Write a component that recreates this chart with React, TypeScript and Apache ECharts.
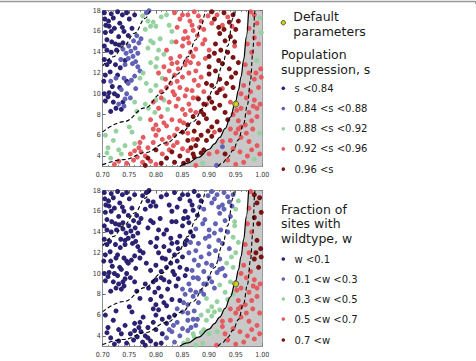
import React, { useEffect, useRef } from "react";
import * as echarts from "echarts";

// ---- data ----
const yTickValues = [4, 6, 8, 10, 12, 14, 16, 18];

const sLabels = ["s <0.84", "0.84 <s <0.88", "0.88 <s <0.92", "0.92 <s <0.96", "0.96 <s"];
const wLabels = ["w <0.1", "0.1 <w <0.3", "0.3 <w <0.5", "0.5 <w <0.7", "0.7 <w"];
const classColors = ["#2b2170", "#6161b6", "#95d29f", "#e45a5e", "#7a1313"];

const defaultParams: [number, number] = [0.95, 9.0];

// contour curves (x, y)
const dashed1: [number, number][] = [[0.7, 12.67], [0.72, 13.57], [0.74, 14.62], [0.76, 15.83], [0.78, 17.27], [0.789, 18.0]];
const dashed2: [number, number][] = [[0.7, 6.33], [0.74, 7.31], [0.78, 8.64], [0.81, 10.0], [0.84, 11.88], [0.86, 13.57], [0.875, 15.2], [0.885, 16.52], [0.894, 17.92], [0.8944, 18.0]];
const dashed3: [number, number][] = [[0.7, 3.17], [0.74, 3.65], [0.78, 4.32], [0.82, 5.28], [0.85, 6.33], [0.87, 7.31], [0.89, 8.64], [0.91, 10.56], [0.925, 12.67], [0.935, 14.62], [0.945, 17.27], [0.9472, 18.0]];
const solidCurve: [number, number][] = [[0.845, 3.0], [0.86, 3.32], [0.88, 3.88], [0.9, 4.65], [0.91, 5.17], [0.92, 5.81], [0.93, 6.64], [0.94, 7.75], [0.95, 9.3], [0.955, 10.33], [0.96, 11.63], [0.965, 13.29], [0.97, 15.5], [0.9742, 18.0]];
const dashed4: [number, number][] = [[0.917, 3.0], [0.925, 3.33], [0.935, 3.85], [0.945, 4.55], [0.955, 5.56], [0.965, 7.14], [0.972, 8.93], [0.978, 11.36], [0.982, 13.89], [0.986, 17.86], [0.9862, 18.0]];
const shadeEnd: [number, number][] = [[1.0, 18.0]];

// samples: [x, y, s-class, w-class]
const samples: [number, number, number, number][] = [
  // s < 0.84
  [0.703, 17.8, 0, 0], [0.716, 17.7, 0, 0], [0.728, 17.9, 0, 0], [0.737, 17.6, 0, 0], [0.745, 17.8, 0, 0], [0.704, 17.2, 0, 0],
  [0.706, 16.6, 0, 0], [0.712, 16.5, 0, 0], [0.722, 16.3, 0, 0], [0.732, 16.8, 0, 0], [0.737, 16.4, 0, 0], [0.705, 15.9, 0, 0],
  [0.716, 16.0, 0, 0], [0.717, 15.0, 0, 0], [0.724, 14.8, 0, 0], [0.731, 14.7, 0, 0], [0.738, 14.9, 0, 0], [0.708, 14.2, 0, 0],
  [0.716, 14.0, 0, 0], [0.726, 14.2, 0, 0], [0.703, 13.3, 0, 0], [0.708, 12.8, 0, 0], [0.714, 12.1, 0, 0], [0.705, 11.8, 0, 0],
  [0.702, 11.2, 0, 0], [0.712, 10.1, 0, 0], [0.703, 10.0, 0, 0], [0.722, 10.0, 0, 0], [0.732, 10.6, 0, 0], [0.718, 10.7, 0, 0],
  [0.728, 9.8, 0, 0], [0.738, 9.2, 0, 0], [0.705, 9.3, 0, 0], [0.725, 8.6, 0, 0], [0.715, 8.3, 0, 0], [0.748, 15.6, 0, 0],
  [0.755, 16.3, 0, 0], [0.742, 13.2, 0, 0], [0.733, 12.5, 0, 0], [0.724, 12.8, 0, 0], [0.708, 15.2, 0, 0], [0.75, 17.2, 0, 0],
  [0.745, 11.2, 0, 0], [0.76, 17.6, 0, 0], [0.711, 17.0, 0, 0], [0.72, 9.2, 0, 0], [0.72, 17.3, 0, 0], [0.73, 15.5, 0, 0],
  [0.703, 14.6, 0, 0], [0.74, 16.0, 0, 0], [0.713, 13.1, 0, 0], [0.728, 11.8, 0, 0], [0.71, 9.7, 0, 0], [0.735, 8.5, 0, 0],
  // 0.84 < s < 0.88
  [0.738, 14.3, 1, 0], [0.744, 13.9, 1, 0], [0.749, 14.6, 1, 0], [0.753, 14.1, 1, 0], [0.757, 13.6, 1, 0], [0.761, 14.4, 1, 0],
  [0.766, 13.9, 1, 0], [0.748, 13.4, 1, 0], [0.756, 12.9, 1, 0], [0.762, 13.1, 1, 0], [0.742, 12.8, 1, 0], [0.734, 13.3, 1, 0],
  [0.768, 14.9, 1, 0], [0.772, 15.3, 1, 0], [0.764, 15.6, 1, 0], [0.758, 15.1, 1, 0], [0.74, 11.5, 1, 0], [0.748, 11.0, 1, 0],
  [0.754, 11.3, 1, 0], [0.76, 11.7, 1, 0], [0.735, 10.4, 1, 0], [0.745, 10.0, 1, 0], [0.752, 9.6, 1, 0], [0.762, 10.5, 1, 0],
  [0.73, 9.0, 1, 0], [0.74, 8.8, 1, 0], [0.77, 12.2, 1, 0], [0.715, 11.2, 1, 0], [0.725, 11.5, 1, 0], [0.782, 17.8, 1, 0],
  [0.787, 18.0, 1, 0], [0.766, 12.6, 1, 0], [0.742, 9.5, 1, 0], [0.925, 4.9, 1, 3], [0.914, 3.1, 1, 3],
  // 0.88 < s < 0.92
  [0.785, 17.0, 2, 0], [0.79, 16.5, 2, 0], [0.795, 16.9, 2, 0], [0.78, 16.2, 2, 0], [0.8, 16.5, 2, 0], [0.81, 17.4, 2, 0],
  [0.82, 17.6, 2, 0], [0.825, 16.6, 2, 0], [0.79, 15.1, 2, 0], [0.795, 14.9, 2, 0], [0.808, 15.3, 2, 0], [0.785, 14.4, 2, 0],
  [0.802, 13.4, 2, 0], [0.815, 13.8, 2, 0], [0.83, 15.0, 2, 0], [0.776, 12.0, 2, 0], [0.77, 11.5, 2, 0], [0.782, 11.0, 2, 0],
  [0.79, 10.3, 2, 0], [0.8, 10.8, 2, 0], [0.812, 11.5, 2, 0], [0.78, 9.0, 2, 0], [0.786, 8.6, 2, 0], [0.798, 8.2, 2, 0],
  [0.815, 9.4, 2, 0], [0.822, 8.5, 2, 0], [0.76, 9.2, 2, 0], [0.764, 8.3, 2, 0], [0.77, 7.6, 2, 0], [0.705, 6.0, 2, 0],
  [0.71, 4.8, 2, 0], [0.708, 4.3, 2, 0], [0.73, 4.6, 2, 0], [0.735, 4.2, 2, 0], [0.75, 6.8, 2, 0], [0.755, 6.3, 2, 0],
  [0.72, 5.5, 2, 0], [0.76, 5.2, 2, 0], [0.742, 5.0, 2, 0], [0.83, 16.0, 2, 0], [0.8, 12.6, 2, 0],
  [0.775, 17.5, 2, 0], [0.805, 14.2, 2, 0], [0.79, 13.0, 2, 0], [0.8, 9.4, 2, 0], [0.725, 6.4, 2, 0], [0.715, 3.8, 2, 0],
  [0.995, 17.3, 2, 4], [0.99, 13.2, 2, 4], [0.995, 6.2, 2, 3], [0.985, 3.7, 2, 3], [0.998, 15.9, 2, 4], [0.888, 3.3, 2, 2],
  // 0.92 < s < 0.96
  [0.835, 17.8, 3, 0], [0.845, 17.2, 3, 0], [0.86, 17.6, 3, 0], [0.872, 17.9, 3, 0], [0.885, 17.0, 3, 0], [0.84, 16.4, 3, 0],
  [0.855, 16.0, 3, 0], [0.868, 16.6, 3, 0], [0.878, 15.6, 3, 0], [0.89, 16.2, 3, 1], [0.898, 17.5, 3, 1], [0.838, 15.0, 3, 0],
  [0.85, 14.6, 3, 0], [0.862, 14.9, 3, 0], [0.875, 14.3, 3, 1], [0.888, 14.8, 3, 1], [0.845, 13.6, 3, 0], [0.858, 13.2, 3, 0],
  [0.87, 13.6, 3, 0], [0.88, 12.9, 3, 1], [0.893, 13.4, 3, 1], [0.9, 14.2, 3, 1],
  [0.805, 12.0, 3, 0], [0.815, 12.6, 3, 0], [0.825, 12.2, 3, 0], [0.835, 11.8, 3, 0], [0.83, 12.9, 3, 0], [0.84, 11.2, 3, 0],
  [0.85, 11.6, 3, 0], [0.862, 12.0, 3, 1], [0.872, 11.3, 3, 1], [0.885, 11.6, 3, 1], [0.82, 10.6, 3, 0], [0.832, 10.2, 3, 0],
  [0.845, 10.6, 3, 0], [0.855, 9.8, 3, 0], [0.868, 10.3, 3, 1], [0.878, 9.6, 3, 1], [0.81, 9.6, 3, 0], [0.825, 9.2, 3, 0],
  [0.838, 8.8, 3, 0], [0.85, 8.5, 3, 1], [0.862, 9.0, 3, 1], [0.875, 8.2, 3, 1], [0.89, 10.2, 3, 1], [0.895, 9.0, 3, 1],
  [0.79, 7.5, 3, 0], [0.8, 7.0, 3, 0], [0.81, 7.8, 3, 0], [0.82, 6.9, 3, 0], [0.83, 7.5, 3, 0], [0.84, 6.6, 3, 1],
  [0.852, 7.2, 3, 1], [0.86, 6.2, 3, 1], [0.87, 5.6, 3, 1], [0.8, 6.0, 3, 0], [0.812, 5.6, 3, 0], [0.825, 5.8, 3, 0],
  [0.84, 5.3, 3, 1], [0.85, 4.7, 3, 1], [0.86, 4.5, 3, 1], [0.776, 5.8, 3, 0], [0.77, 5.3, 3, 0], [0.768, 4.8, 3, 0],
  [0.772, 4.4, 3, 0], [0.78, 4.0, 3, 0], [0.76, 4.5, 3, 0], [0.765, 3.9, 3, 0], [0.79, 3.5, 3, 0], [0.745, 3.3, 3, 0],
  [0.73, 3.5, 3, 0], [0.722, 3.2, 3, 0], [0.8, 3.2, 3, 0], [0.812, 4.2, 3, 0], [0.825, 4.6, 3, 1],
  [0.82, 14.2, 3, 0], [0.828, 13.4, 3, 0], [0.842, 12.4, 3, 0], [0.855, 12.8, 3, 0], [0.865, 13.0, 3, 1], [0.86, 15.4, 3, 0],
  [0.87, 16.1, 3, 0], [0.882, 16.4, 3, 1], [0.85, 17.6, 3, 0], [0.864, 17.0, 3, 0], [0.88, 17.5, 3, 0], [0.892, 15.2, 3, 1],
  [0.81, 10.2, 3, 0], [0.818, 11.4, 3, 0], [0.828, 11.0, 3, 0], [0.858, 10.4, 3, 0], [0.87, 9.6, 3, 1], [0.842, 9.5, 3, 0],
  [0.835, 9.9, 3, 0], [0.88, 10.8, 3, 1], [0.795, 6.6, 3, 0], [0.805, 6.5, 3, 0], [0.815, 7.2, 3, 0], [0.835, 6.0, 3, 0],
  [0.845, 7.4, 3, 0], [0.855, 8.0, 3, 1], [0.865, 8.4, 3, 1], [0.82, 5.2, 3, 0], [0.833, 5.0, 3, 1], [0.775, 3.4, 3, 0],
  [0.758, 3.6, 3, 0], [0.752, 4.2, 3, 0], [0.785, 4.8, 3, 0], [0.795, 5.3, 3, 0], [0.805, 8.6, 3, 0], [0.795, 9.2, 3, 0],
  [0.84, 13.0, 3, 0], [0.852, 15.3, 3, 0], [0.875, 12.2, 3, 1], [0.865, 14.0, 3, 0],
  [0.905, 16.8, 3, 1], [0.915, 17.6, 3, 1], [0.925, 16.6, 3, 1], [0.935, 17.4, 3, 1],
  [0.943, 16.5, 3, 1], [0.948, 14.6, 3, 2], [0.925, 10.5, 3, 1], [0.94, 9.2, 3, 2], [0.91, 6.3, 3, 2], [0.9, 4.2, 3, 2],
  [0.985, 17.6, 3, 4], [0.99, 16.8, 3, 4], [0.975, 16.3, 3, 3], [0.985, 15.4, 3, 4], [0.993, 14.8, 3, 4], [0.98, 14.0, 3, 3],
  [0.997, 12.4, 3, 4], [0.975, 12.0, 3, 3], [0.985, 11.4, 3, 4], [0.993, 10.6, 3, 4], [0.978, 10.2, 3, 3], [0.965, 10.8, 3, 3],
  [0.97, 9.6, 3, 3], [0.985, 9.4, 3, 3], [0.996, 9.0, 3, 3], [0.96, 8.6, 3, 3], [0.975, 8.2, 3, 3], [0.99, 7.8, 3, 3],
  [0.955, 7.4, 3, 3], [0.968, 7.0, 3, 3], [0.982, 6.6, 3, 3], [0.95, 6.2, 3, 3], [0.96, 5.8, 3, 3], [0.975, 5.4, 3, 3],
  [0.99, 5.0, 3, 3], [0.94, 5.5, 3, 3], [0.945, 4.7, 3, 3], [0.958, 4.4, 3, 3], [0.972, 4.0, 3, 3], [0.935, 3.6, 3, 3],
  [0.95, 3.2, 3, 3], [0.965, 3.4, 3, 3], [0.915, 4.4, 3, 2], [0.925, 5.4, 3, 3], [0.94, 6.6, 3, 3], [0.952, 8.4, 3, 3],
  [0.96, 10.0, 3, 3], [0.968, 12.8, 3, 3], [0.972, 14.8, 3, 3], [0.978, 17.9, 3, 3], [0.995, 4.2, 3, 3], [0.998, 11.6, 3, 4],
  [0.99, 8.6, 3, 3], [0.98, 7.4, 3, 3], [0.96, 6.8, 3, 3], [0.945, 8.0, 3, 2], [0.875, 3.1, 3, 2],
  [0.955, 6.6, 3, 3], [0.97, 6.2, 3, 3], [0.98, 4.6, 3, 3], [0.988, 12.0, 3, 4], [0.983, 8.8, 3, 3],
  // s > 0.96
  [0.905, 17.9, 4, 1], [0.91, 17.2, 4, 1], [0.918, 16.4, 4, 1], [0.928, 17.8, 4, 1], [0.938, 16.9, 4, 1], [0.945, 17.6, 4, 1],
  [0.95, 16.2, 4, 2], [0.94, 15.5, 4, 1], [0.93, 15.1, 4, 1], [0.92, 15.8, 4, 1], [0.955, 17.0, 4, 2], [0.912, 14.8, 4, 1],
  [0.9, 13.6, 4, 1], [0.91, 13.9, 4, 1], [0.922, 14.2, 4, 1], [0.935, 14.0, 4, 1], [0.945, 13.5, 4, 2], [0.925, 12.9, 4, 1],
  [0.938, 12.4, 4, 1], [0.95, 12.0, 4, 2], [0.912, 12.2, 4, 1], [0.9, 11.9, 4, 1], [0.92, 11.4, 4, 1], [0.933, 11.0, 4, 2],
  [0.945, 10.6, 4, 2], [0.905, 10.8, 4, 1], [0.915, 10.1, 4, 1], [0.93, 9.8, 4, 1], [0.895, 11.0, 4, 1], [0.955, 13.0, 4, 2],
  [0.88, 9.5, 4, 1], [0.89, 9.0, 4, 1], [0.9, 9.6, 4, 1], [0.91, 8.6, 4, 1], [0.92, 8.9, 4, 2], [0.93, 8.2, 4, 2],
  [0.885, 8.3, 4, 1], [0.87, 7.8, 4, 1], [0.88, 7.2, 4, 1], [0.895, 7.6, 4, 2], [0.905, 6.8, 4, 2], [0.915, 7.3, 4, 2],
  [0.86, 7.0, 4, 1], [0.872, 6.4, 4, 1], [0.885, 6.0, 4, 2], [0.895, 5.5, 4, 2], [0.905, 5.9, 4, 2], [0.86, 5.5, 4, 1],
  [0.875, 5.0, 4, 1], [0.89, 4.6, 4, 2], [0.85, 6.3, 4, 1], [0.87, 4.2, 4, 2], [0.872, 3.9, 4, 2], [0.852, 3.3, 4, 2],
  [0.86, 3.6, 4, 2], [0.845, 4.0, 4, 1], [0.835, 3.4, 4, 1], [0.82, 3.8, 4, 1], [0.81, 3.3, 4, 0], [0.83, 4.4, 4, 1],
  [0.8, 4.6, 4, 0], [0.785, 3.8, 4, 0], [0.78, 3.1, 4, 0], [0.92, 6.5, 4, 2], [0.935, 7.5, 4, 2], [0.93, 4.2, 4, 3],
  [0.9, 12.6, 4, 1], [0.918, 13.2, 4, 1], [0.928, 16.2, 4, 1], [0.942, 11.6, 4, 2], [0.89, 8.0, 4, 1], [0.905, 9.2, 4, 1],
  [0.898, 6.4, 4, 2], [0.878, 5.6, 4, 1], [0.866, 4.8, 4, 1], [0.885, 4.3, 4, 2], [0.92, 10.4, 4, 1], [0.948, 15.0, 4, 2],
];

// ---- layout ----
const PLOT_LEFT = 102.7;
const PLOT_W = 159.6;
const PLOT_H = 155.7;
const PANEL_TOPS = [10.7, 190.5];
const FONT = "'DejaVu Sans', sans-serif";
const TICK_FONT = "'DejaVu Sans Condensed', 'DejaVu Sans', sans-serif";

function buildOption() {
  const grid = PANEL_TOPS.map((t) => ({ left: PLOT_LEFT, top: t, width: PLOT_W, height: PLOT_H }));
  const frameLine = { show: true, lineStyle: { color: "#8c8c8c", width: 1 } };
  const xAxis: any[] = [];
  const yAxis: any[] = [];
  PANEL_TOPS.forEach((_, g) => {
    xAxis.push({
      type: "value", gridIndex: g, position: "bottom", min: 0.7, max: 1.0, interval: 0.05,
      axisLine: frameLine, splitLine: { show: false },
      axisTick: { show: true, inside: true, length: 3, lineStyle: { color: "#666" } },
      minorTick: { show: true, splitNumber: 5, length: 1.5, lineStyle: { color: "#888" } },
      axisLabel: { show: true, fontSize: 7, fontFamily: TICK_FONT, color: "#333", margin: 5, formatter: (v: number) => v.toFixed(2) },
    });
    xAxis.push({
      type: "value", gridIndex: g, position: "top", min: 0.7, max: 1.0, interval: 0.05,
      axisLine: frameLine, splitLine: { show: false },
      axisTick: { show: true, inside: true, length: 3, lineStyle: { color: "#666" } },
      minorTick: { show: true, splitNumber: 5, length: 1.5, lineStyle: { color: "#888" } },
      axisLabel: { show: false },
    });
    yAxis.push({
      type: "value", gridIndex: g, position: "left", min: 3, max: 18,
      axisLine: frameLine, splitLine: { show: false },
      axisTick: { show: true, inside: true, length: 3, customValues: yTickValues, lineStyle: { color: "#666" } },
      axisLabel: { show: true, fontSize: 7, fontFamily: TICK_FONT, color: "#333", margin: 2, customValues: yTickValues },
    });
    yAxis.push({
      type: "value", gridIndex: g, position: "right", min: 3, max: 18,
      axisLine: frameLine, splitLine: { show: false },
      axisTick: { show: true, inside: true, length: 3, customValues: yTickValues, lineStyle: { color: "#666" } },
      axisLabel: { show: false },
    });
  });

  const series: any[] = [];
  [0, 1].forEach((p) => {
    const xi = p * 2;
    const yi = p * 2;
    series.push({
      type: "line", xAxisIndex: xi, yAxisIndex: yi, data: [...solidCurve, ...shadeEnd],
      symbol: "none", smooth: 0.4, smoothMonotone: "x", lineStyle: { width: 0 },
      areaStyle: { color: "#c9c9c9", opacity: 1, origin: "start" }, z: 1, silent: true,
    });
    for (let c = 0; c < 5; c++) {
      const data = samples.filter((d) => d[2 + p] === c).map((d) => [d[0], d[1]]);
      series.push({
        type: "scatter", xAxisIndex: xi, yAxisIndex: yi, data, symbolSize: 5,
        itemStyle: { color: classColors[c], opacity: 1 }, z: 2,
      });
    }
    [dashed1, dashed2, dashed3, dashed4].forEach((curve) => {
      series.push({
        type: "line", xAxisIndex: xi, yAxisIndex: yi, data: curve, symbol: "none",
        smooth: 0.4, smoothMonotone: "x",
        lineStyle: { color: "#000", width: 1.1, type: [4, 2.5] }, z: 3, silent: true,
      });
    });
    series.push({
      type: "line", xAxisIndex: xi, yAxisIndex: yi, data: solidCurve, symbol: "none",
      smooth: 0.4, smoothMonotone: "x", lineStyle: { color: "#000", width: 1.2 }, z: 3, silent: true,
    });
    series.push({
      type: "scatter", xAxisIndex: xi, yAxisIndex: yi, data: [defaultParams], symbolSize: 6,
      itemStyle: { color: "#d2d200", borderColor: "#333", borderWidth: 1 }, z: 4,
    });
  });

  const graphic: any[] = [];
  graphic.push({ type: "line", shape: { x1: 0, y1: 1.5, x2: 475.5, y2: 1.5 }, style: { stroke: "#999", lineWidth: 1.5 } });
  graphic.push({ type: "line", shape: { x1: 475.5, y1: 1, x2: 475.5, y2: 4 }, style: { stroke: "#999", lineWidth: 1 } });

  const heading = (text: string, x: number, y: number) => ({
    type: "text", x, y,
    style: { text, fill: "#1a1a1a", fontSize: 12.5, lineHeight: 14.6, fontFamily: FONT, verticalAlign: "top", align: "left" },
  });
  const item = (text: string, x: number, y: number) => ({
    type: "text", x, y,
    style: { text, fill: "#1a1a1a", fontSize: 10, fontFamily: FONT, verticalAlign: "middle", align: "left" },
  });
  // default parameters entry
  graphic.push({ type: "circle", shape: { cx: 283.3, cy: 22.7, r: 2.2 }, style: { fill: "#d2d200", stroke: "#333", lineWidth: 0.8 } });
  graphic.push(heading("Default\nparameters", 293.3, 9.25));
  // s legend
  graphic.push(heading("Population\nsuppression, s", 281, 47.55));
  const sY = [88.3, 108.5, 128.7, 148.9, 169.1];
  sLabels.forEach((l, i) => {
    graphic.push({ type: "circle", shape: { cx: 283.3, cy: sY[i], r: 1.8 }, style: { fill: classColors[i] } });
    graphic.push(item(l, 294.5, sY[i]));
  });
  // w legend
  graphic.push(heading("Fraction of\nsites with\nwildtype, w", 281, 201.95));
  const wY = [259, 279, 299, 319, 340];
  wLabels.forEach((l, i) => {
    graphic.push({ type: "circle", shape: { cx: 283.3, cy: wY[i], r: 1.8 }, style: { fill: classColors[i] } });
    graphic.push(item(l, 294.5, wY[i]));
  });

  return { animation: false, backgroundColor: "#ffffff", grid, xAxis, yAxis, series, graphic };
}

export default function App() {
  const ref = useRef<HTMLDivElement>(null);
  useEffect(() => {
    if (!ref.current) return;
    const chart = echarts.init(ref.current, undefined, { renderer: "svg" });
    chart.setOption(buildOption() as any);
    return () => chart.dispose();
  }, []);
  return <div ref={ref} style={{ position: "absolute", left: 0, top: 0, width: 476, height: 361 }} />;
}
